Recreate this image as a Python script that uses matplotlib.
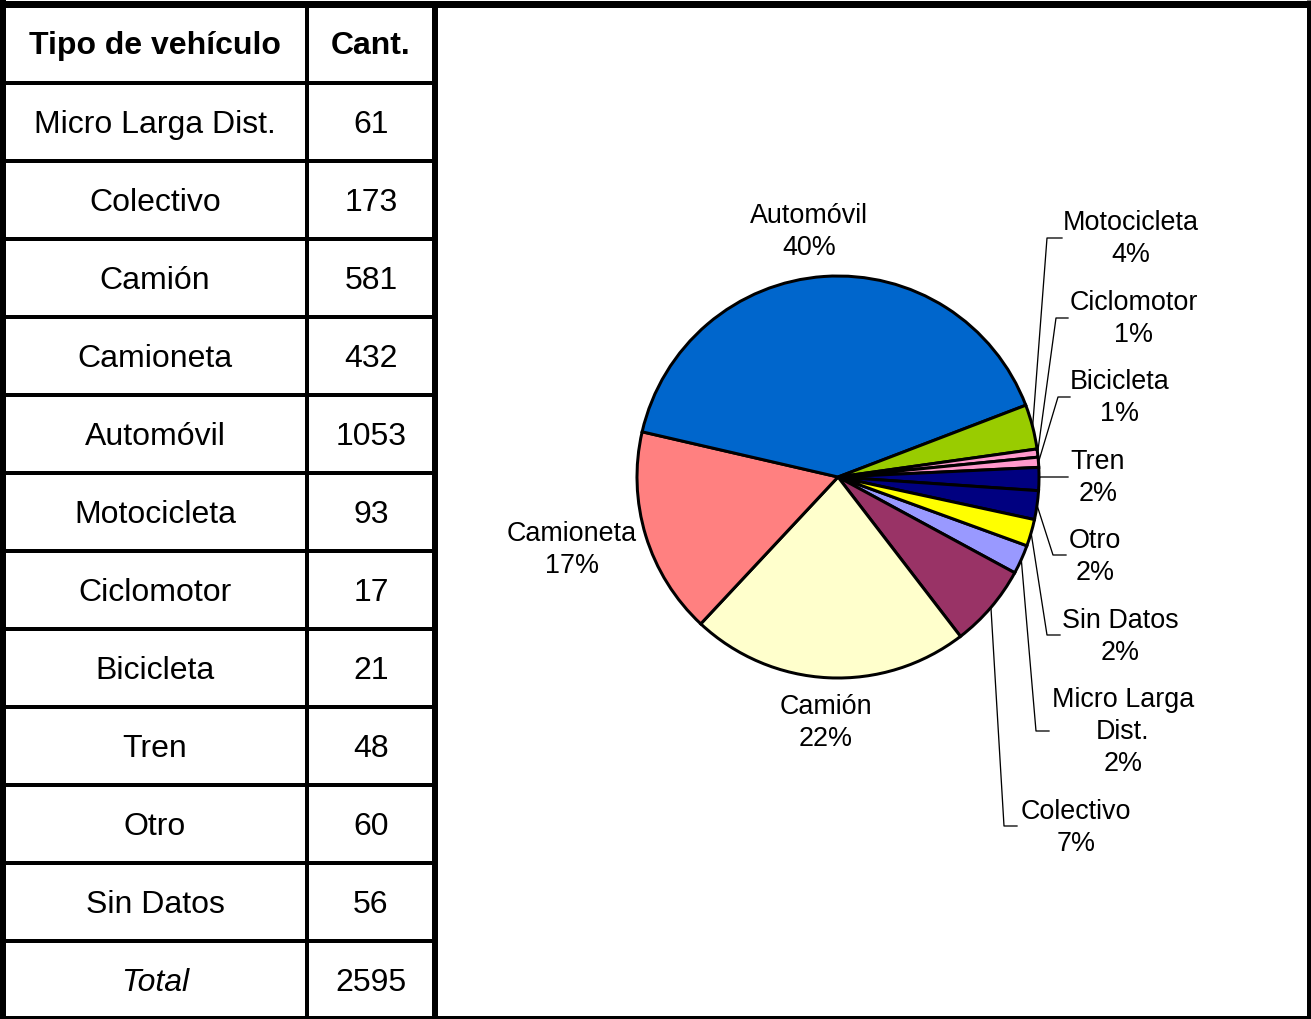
import numpy as np
import matplotlib
matplotlib.use("Agg")
import matplotlib.pyplot as plt

plt.rcParams['font.family'] = ['Liberation Sans', 'DejaVu Sans']

# === datos ===
tipos = ['Micro Larga Dist.', 'Colectivo', 'Camión', 'Camioneta', 'Automóvil',
         'Motocicleta', 'Ciclomotor', 'Bicicleta', 'Tren', 'Otro', 'Sin Datos']
cantidades = [61, 173, 581, 432, 1053, 93, 17, 21, 48, 60, 56]
total = 2595
pct_labels = ['2%', '7%', '22%', '17%', '40%', '4%', '1%', '1%', '2%', '2%', '2%']
pie_names = ['Micro Larga\nDist.', 'Colectivo', 'Camión', 'Camioneta', 'Automóvil',
             'Motocicleta', 'Ciclomotor', 'Bicicleta', 'Tren', 'Otro', 'Sin Datos']
colores = ['#9999FF', '#993366', '#FFFFCC', '#FF8080', '#0066CC',
           '#99CC00', '#FF99CC', '#FF99CC', '#000080', '#000080', '#FFFF00']

W, H = 1311, 1019
fig = plt.figure(figsize=(W / 100, H / 100), dpi=100)
ax = fig.add_axes([0, 0, 1, 1])
ax.set_xlim(0, W)
ax.set_ylim(H, 0)
ax.axis('off')

px = 0.72  # 1 px en puntos

# === tabla ===
x0, xm, x1 = 3, 307, 435
y_top, row_h = 5, 78
n_rows = len(tipos) + 2
y_lines = [y_top + 78] + [y_top + 78 + row_h * (i + 1) for i in range(n_rows - 1)]

for y in y_lines[:-1]:
    ax.plot([x0, x1], [y, y], color='black', lw=4 * px, solid_capstyle='butt')
ax.plot([xm, xm], [y_top, H], color='black', lw=4 * px)
ax.plot([x1, x1], [y_top, H], color='black', lw=6 * px)
# marco exterior
ax.plot([0, W], [4, 4], color='black', lw=7 * px, solid_capstyle='butt')
ax.plot([3, 3], [0, H], color='black', lw=6 * px, solid_capstyle='butt')
ax.plot([W - 2, W - 2], [0, H], color='black', lw=5 * px, solid_capstyle='butt')
ax.plot([0, W], [H - 1.5, H - 1.5], color='black', lw=4 * px, solid_capstyle='butt')

fs_tab = 23
cx_tipo, cx_cant = 155, 371
ax.text(cx_tipo, 46, 'Tipo de vehículo', ha='center', va='center', fontsize=fs_tab, fontweight='bold')
ax.text(cx_cant, 46, 'Cant.', ha='center', va='center', fontsize=fs_tab, fontweight='bold')
for i, (t, c) in enumerate(zip(tipos, cantidades)):
    yc = y_top + 78 + row_h * i + row_h / 2 + 3
    ax.text(cx_tipo, yc, t, ha='center', va='center', fontsize=fs_tab)
    ax.text(cx_cant, yc, str(c), ha='center', va='center', fontsize=fs_tab)
yc = y_top + 78 + row_h * len(tipos) + row_h / 2 + 3
ax.text(cx_tipo, yc, 'Total', ha='center', va='center', fontsize=fs_tab, style='italic')
ax.text(cx_cant, yc, str(total), ha='center', va='center', fontsize=fs_tab)

# === torta ===
pcx, pcy, r = 838, 477, 201
pax = fig.add_axes([(pcx - r) / W, (H - pcy - r) / H, 2 * r / W, 2 * r / H])
wedges, _ = pax.pie(cantidades, colors=colores, startangle=-20, counterclock=False,
                    radius=1, wedgeprops=dict(edgecolor='black', linewidth=3 * px))
pax.set_xlim(-1, 1)
pax.set_ylim(-1, 1)
pax.axis('off')

# posiciones de etiquetas (centro del bloque, px) y guías
label_pos = [(1123, 732), (1076, 828), (826, 723), (572, 550), (809, 232),
             (1131, 239), (1134, 319), (1120, 398), (1098, 478), (1095, 557), (1120, 637)]
guides = [(1036, 731, 1049), (1004, 826, 1017), None, None, None,
          (1047, 238, 1062), (1056, 318, 1068), (1058, 397, 1070),
          (1040, 477, 1068), (1053, 555, 1066), (1047, 635, 1060)]

fs_pie = 19.4
for w, name, pct, (lx, ly), g in zip(wedges, pie_names, pct_labels, label_pos, guides):
    ax.text(lx, ly, name + '\n' + pct, ha='center', va='center', fontsize=fs_pie,
            linespacing=1.32)
    if g is not None:
        ang = np.deg2rad((w.theta1 + w.theta2) / 2)
        ex = pcx + r * np.cos(ang)
        ey = pcy - r * np.sin(ang)
        gx, gy, hx = g
        ax.plot([ex, gx, hx], [ey, gy, gy], color='black', lw=1.3 * px)

fig.savefig('out.png', dpi=100)
